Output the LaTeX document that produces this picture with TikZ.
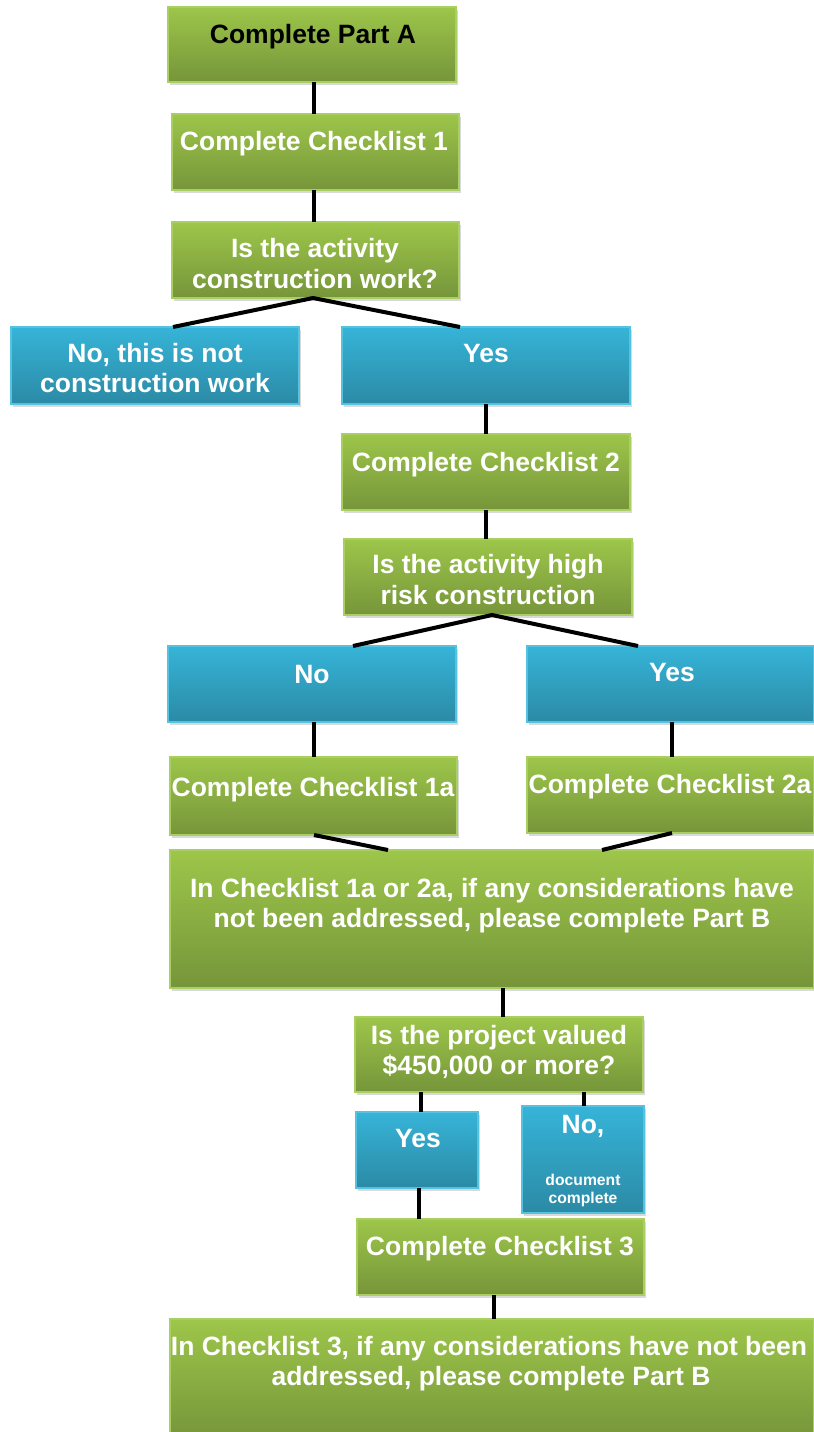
\documentclass[tikz,border=0pt]{standalone}
\usepackage{fontspec}
\setmainfont{Liberation Sans}
\usetikzlibrary{shadows}
\definecolor{gtop}{HTML}{9DC64A}
\definecolor{gbot}{HTML}{76953A}
\definecolor{gedge}{HTML}{A9CF63}
\definecolor{btop}{HTML}{36B4D8}
\definecolor{bbot}{HTML}{2B8AA5}
\definecolor{bedge}{HTML}{55C2E0}
\newcommand\mybox[6]{\node[#6, minimum width={(#4-#2)*0.5pt}, minimum height={(#5-#3)*0.5pt}] (#1) at ({(#2+#4)/2},{(#3+#5)/2}) {};}
\tikzset{
  boxbase/.style={rectangle, inner sep=0pt, outer sep=0pt, line width=0.6pt,
    drop shadow={shadow xshift=1pt, shadow yshift=-1.5pt, opacity=0.25, fill=black!60}},
  gbox/.style={boxbase, top color=gtop, bottom color=gbot, draw=gedge},
  bbox/.style={boxbase, top color=btop, bottom color=bbot, draw=bedge},
  txt/.style={anchor=base, inner sep=0pt, outer sep=0pt, text=white, font=\bfseries\fontsize{13.25}{15}\selectfont},
  smalltxt/.style={txt, font=\bfseries\fontsize{7.85}{9}\selectfont},
  conn/.style={line width=2pt, black}
}
\begin{document}
\begin{tikzpicture}[x=0.5pt,y=-0.5pt]
\useasboundingbox (0,0) rectangle (814,1432);
% boxes
\mybox{pa}{168}{7}{456}{82}{gbox}
\mybox{c1}{172}{114}{459}{190}{gbox}
\mybox{q1}{172}{222}{459}{298}{gbox}
\mybox{no1}{11}{327}{299}{404}{bbox}
\mybox{yes1}{342}{327}{630}{404}{bbox}
\mybox{c2}{342}{434}{630}{510}{gbox}
\mybox{q2}{344}{539}{632}{615}{gbox}
\mybox{no2}{168}{646}{456}{722}{bbox}
\mybox{yes2}{527}{646}{814}{722}{bbox}
\mybox{c1a}{170}{757}{457}{835}{gbox}
\mybox{c2a}{527}{757}{814}{833}{gbox}
\mybox{big}{170}{850}{814}{988}{gbox}
\mybox{q3}{355}{1017}{643}{1092}{gbox}
\mybox{yes3}{356}{1112}{478}{1188}{bbox}
\mybox{no3}{522}{1106}{644}{1213}{bbox}
\mybox{c3}{357}{1219}{644}{1295}{gbox}
\mybox{big3}{170}{1319}{814}{1440}{gbox}
% connectors
\draw[conn] (pa.south -| 314,0) -- (c1.north -| 314,0);
\draw[conn] (c1.south -| 314,0) -- (q1.north -| 314,0);
\draw[conn] (no1.north -| 173,0) -- (q1.south -| 313,0) -- (yes1.north -| 460,0);
\draw[conn] (yes1.south -| 486,0) -- (c2.north -| 486,0);
\draw[conn] (c2.south -| 486,0) -- (q2.north -| 486,0);
\draw[conn] (no2.north -| 353,0) -- (q2.south -| 492,0) -- (yes2.north -| 638,0);
\draw[conn] (no2.south -| 314,0) -- (c1a.north -| 314,0);
\draw[conn] (yes2.south -| 672,0) -- (c2a.north -| 672,0);
\draw[conn] (c1a.south -| 314,0) -- (big.north -| 388,0);
\draw[conn] (c2a.south -| 672,0) -- (big.north -| 602,0);
\draw[conn] (big.south -| 503,0) -- (q3.north -| 503,0);
\draw[conn] (q3.south -| 421,0) -- (yes3.north -| 421,0);
\draw[conn] (q3.south -| 584,0) -- (no3.north -| 584,0);
\draw[conn] (yes3.south -| 419,0) -- (c3.north -| 419,0);
\draw[conn] (c3.south -| 494,0) -- (big3.north -| 494,0);
% texts
\node[txt, text=black] (tpa) at (313,43.5) {Complete Part A};
\node[txt] (tc1) at (314,150.5) {Complete Checklist 1};
\node[txt] (tq1a) at (315,257.5) {Is the activity};
\node[txt] (tq1b) at (315,288.5) {construction work?};
\node[txt] (tno1a) at (155,362.5) {No, this is not};
\node[txt] (tno1b) at (155,392.5) {construction work};
\node[txt] (tyes1) at (486,362.5) {Yes};
\node[txt] (tc2) at (486,471.5) {Complete Checklist 2};
\node[txt] (tq2a) at (488,573.5) {Is the activity high};
\node[txt] (tq2b) at (488,604.5) {risk construction};
\node[txt] (tno2) at (312,683.5) {No};
\node[txt] (tyes2) at (672,681.5) {Yes};
\node[txt] (tc1a) at (313,796.5) {Complete Checklist 1a};
\node[txt] (tc2a) at (670,793.5) {Complete Checklist 2a};
\node[txt] (tbiga) at (492,897.5) {In Checklist 1a or 2a, if any considerations have};
\node[txt] (tbigb) at (492,927.5) {not been addressed, please complete Part B};
\node[txt] (tq3a) at (499,1044.5) {Is the project valued};
\node[txt] (tq3b) at (499,1074.5) {\$450,000 or more?};
\node[txt] (tyes3) at (418,1147.5) {Yes};
\node[txt] (tno3a) at (583,1133.5) {No,};
\node[smalltxt] (tno3b) at (583,1185.5) {document};
\node[smalltxt] (tno3c) at (583,1203) {complete};
\node[txt] (tc3) at (500,1255.5) {Complete Checklist 3};
\node[txt] (tbig3a) at (489,1355) {In Checklist 3, if any considerations have not been};
\node[txt] (tbig3b) at (491,1385) {addressed, please complete Part B};
\end{tikzpicture}
\end{document}
